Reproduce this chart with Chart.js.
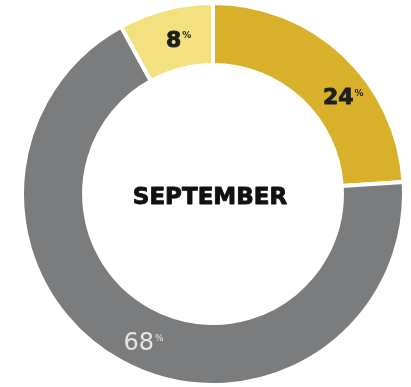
<!DOCTYPE html>
<html>
<head>
<meta charset="utf-8">
<script src="https://cdn.jsdelivr.net/npm/chart.js@4/dist/chart.umd.min.js"></script>
<style>
  html, body { margin: 0; padding: 0; background: #ffffff; }
  #wrap { width: 411px; height: 387px; }
</style>
</head>
<body>
<div id="wrap"><canvas id="c" width="411" height="387"></canvas></div>
<script>
// Share of the month, clockwise from 12 o'clock
const categories = ['A', 'B', 'C'];
const shares = [24, 68, 8];
const sliceColors = ['#d8b02a', '#7a7c7e', '#f3e07e'];
const labelColors = ['#1e1e1e', '#e6e6e6', '#1e1e1e'];
const labelWeights = ['bold', 'normal', 'bold'];
const centerTitle = 'SEPTEMBER';

// where each value label sits inside its slice (fraction of sweep, fraction of ring depth)
const labelAngleFrac = [0.61, 0.49, 0.5];
const labelRadiusFrac = [0.46, 0.62, 0.47];

// heavy text: fill plus a thin stroke of the same colour
function heavyText(ctx, txt, x, y, weight) {
  ctx.fillText(txt, x, y);
  if (weight === 'bold') {
    ctx.lineWidth = 0.9;
    ctx.strokeStyle = ctx.fillStyle;
    ctx.lineJoin = 'round';
    ctx.strokeText(txt, x, y);
  }
}

const ringLabels = {
  id: 'ringLabels',
  afterDatasetsDraw(chart) {
    const ctx = chart.ctx;
    const arcs = chart.getDatasetMeta(0).data;
    ctx.save();
    arcs.forEach((arc, i) => {
      const p = arc.getProps(['x', 'y', 'startAngle', 'endAngle', 'innerRadius', 'outerRadius'], true);
      const a = p.startAngle + labelAngleFrac[i] * (p.endAngle - p.startAngle);
      const r = p.innerRadius + labelRadiusFrac[i] * (p.outerRadius - p.innerRadius);
      const x = p.x + Math.cos(a) * r;
      const y = p.y + Math.sin(a) * r;
      const num = String(shares[i]);
      const big = labelWeights[i] === 'bold' ? 22 : 24;
      ctx.fillStyle = labelColors[i];
      ctx.font = labelWeights[i] + ' ' + big + 'px "DejaVu Sans"';
      ctx.textAlign = 'center';
      ctx.textBaseline = 'middle';
      heavyText(ctx, num, x, y, labelWeights[i]);
      const w = ctx.measureText(num).width;
      ctx.font = labelWeights[i] + ' 9px "DejaVu Sans"';
      ctx.textAlign = 'left';
      ctx.textBaseline = 'top';
      ctx.fillText('%', x + w / 2 + 1, y - big * 0.42);
    });
    const c = arcs[0].getProps(['x', 'y'], true);
    ctx.fillStyle = '#111111';
    ctx.font = 'bold 23px "DejaVu Sans"';
    ctx.textAlign = 'center';
    ctx.textBaseline = 'middle';
    heavyText(ctx, centerTitle, c.x - 3, c.y + 4, 'bold');
    ctx.restore();
  }
};

new Chart(document.getElementById('c'), {
  type: 'doughnut',
  data: {
    labels: categories,
    datasets: [{
      data: shares,
      backgroundColor: sliceColors,
      borderColor: '#ffffff',
      borderWidth: 4,
      hoverOffset: 0
    }]
  },
  options: {
    responsive: false,
    devicePixelRatio: 1,
    animation: false,
    cutout: '67.5%',
    rotation: 0,
    layout: { padding: { left: 20, right: 5, top: 1, bottom: 0 } },
    plugins: {
      legend: { display: false },
      tooltip: { enabled: false }
    },
    events: []
  },
  plugins: [ringLabels]
});
</script>
</body>
</html>
